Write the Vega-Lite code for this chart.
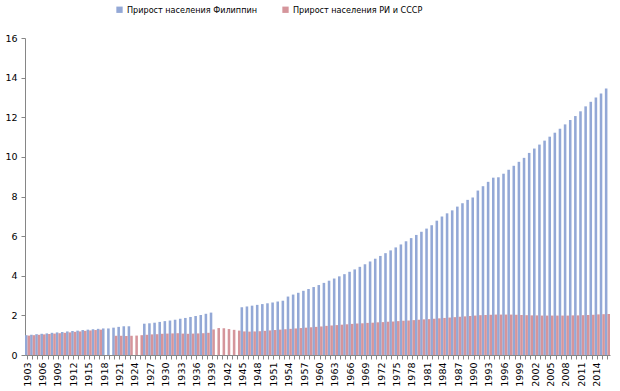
{
  "$schema": "https://vega.github.io/schema/vega-lite/v6.json",
  "width": 585,
  "height": 317,
  "autosize": "none",
  "padding": {"left": 25, "top": 38, "right": 10, "bottom": 36},
  "background": "white",
  "config": {
    "view": {"stroke": null},
    "font": "DejaVu Sans",
    "axis": {"labelFont": "DejaVu Sans", "labelFontSize": 9.5, "labelColor": "#000000", "domainColor": "#868686", "tickColor": "#868686", "grid": false}
  },
  "data": {
    "values": [
      {"year":1903,"s":"PH","v":1.00},{"year":1904,"s":"PH","v":1.02},{"year":1905,"s":"PH","v":1.05},{"year":1906,"s":"PH","v":1.07},{"year":1907,"s":"PH","v":1.09},{"year":1908,"s":"PH","v":1.12},{"year":1909,"s":"PH","v":1.14},{"year":1910,"s":"PH","v":1.16},{"year":1911,"s":"PH","v":1.19},{"year":1912,"s":"PH","v":1.21},{"year":1913,"s":"PH","v":1.23},{"year":1914,"s":"PH","v":1.26},{"year":1915,"s":"PH","v":1.28},{"year":1916,"s":"PH","v":1.30},{"year":1917,"s":"PH","v":1.32},{"year":1918,"s":"PH","v":1.34},{"year":1919,"s":"PH","v":1.34},{"year":1920,"s":"PH","v":1.38},{"year":1921,"s":"PH","v":1.42},{"year":1922,"s":"PH","v":1.45},{"year":1923,"s":"PH","v":1.45},
      {"year":1926,"s":"PH","v":1.58},{"year":1927,"s":"PH","v":1.60},{"year":1928,"s":"PH","v":1.63},{"year":1929,"s":"PH","v":1.67},{"year":1930,"s":"PH","v":1.71},{"year":1931,"s":"PH","v":1.74},{"year":1932,"s":"PH","v":1.78},{"year":1933,"s":"PH","v":1.83},{"year":1934,"s":"PH","v":1.87},{"year":1935,"s":"PH","v":1.92},{"year":1936,"s":"PH","v":1.97},{"year":1937,"s":"PH","v":2.02},{"year":1938,"s":"PH","v":2.08},{"year":1939,"s":"PH","v":2.14},
      {"year":1945,"s":"PH","v":2.41},{"year":1946,"s":"PH","v":2.45},{"year":1947,"s":"PH","v":2.49},{"year":1948,"s":"PH","v":2.53},{"year":1949,"s":"PH","v":2.57},{"year":1950,"s":"PH","v":2.61},{"year":1951,"s":"PH","v":2.65},{"year":1952,"s":"PH","v":2.70},{"year":1953,"s":"PH","v":2.74},{"year":1954,"s":"PH","v":2.95},{"year":1955,"s":"PH","v":3.05},{"year":1956,"s":"PH","v":3.14},{"year":1957,"s":"PH","v":3.24},{"year":1958,"s":"PH","v":3.33},{"year":1959,"s":"PH","v":3.43},{"year":1960,"s":"PH","v":3.53},{"year":1961,"s":"PH","v":3.64},{"year":1962,"s":"PH","v":3.75},{"year":1963,"s":"PH","v":3.86},{"year":1964,"s":"PH","v":3.97},{"year":1965,"s":"PH","v":4.08},{"year":1966,"s":"PH","v":4.20},{"year":1967,"s":"PH","v":4.32},{"year":1968,"s":"PH","v":4.45},{"year":1969,"s":"PH","v":4.58},{"year":1970,"s":"PH","v":4.72},{"year":1971,"s":"PH","v":4.86},{"year":1972,"s":"PH","v":5.00},{"year":1973,"s":"PH","v":5.14},{"year":1974,"s":"PH","v":5.28},{"year":1975,"s":"PH","v":5.43},{"year":1976,"s":"PH","v":5.58},{"year":1977,"s":"PH","v":5.74},{"year":1978,"s":"PH","v":5.90},{"year":1979,"s":"PH","v":6.06},{"year":1980,"s":"PH","v":6.22},{"year":1981,"s":"PH","v":6.38},{"year":1982,"s":"PH","v":6.55},{"year":1983,"s":"PH","v":6.78},{"year":1984,"s":"PH","v":6.99},{"year":1985,"s":"PH","v":7.15},{"year":1986,"s":"PH","v":7.30},{"year":1987,"s":"PH","v":7.49},{"year":1988,"s":"PH","v":7.66},{"year":1989,"s":"PH","v":7.83},{"year":1990,"s":"PH","v":7.95},{"year":1991,"s":"PH","v":8.30},{"year":1992,"s":"PH","v":8.52},{"year":1993,"s":"PH","v":8.74},{"year":1994,"s":"PH","v":8.95},{"year":1995,"s":"PH","v":8.97},{"year":1996,"s":"PH","v":9.15},{"year":1997,"s":"PH","v":9.35},{"year":1998,"s":"PH","v":9.55},{"year":1999,"s":"PH","v":9.75},{"year":2000,"s":"PH","v":9.95},{"year":2001,"s":"PH","v":10.20},{"year":2002,"s":"PH","v":10.42},{"year":2003,"s":"PH","v":10.62},{"year":2004,"s":"PH","v":10.82},{"year":2005,"s":"PH","v":11.02},{"year":2006,"s":"PH","v":11.22},{"year":2007,"s":"PH","v":11.42},{"year":2008,"s":"PH","v":11.64},{"year":2009,"s":"PH","v":11.86},{"year":2010,"s":"PH","v":12.06},{"year":2011,"s":"PH","v":12.30},{"year":2012,"s":"PH","v":12.55},{"year":2013,"s":"PH","v":12.78},{"year":2014,"s":"PH","v":13.00},{"year":2015,"s":"PH","v":13.20},{"year":2016,"s":"PH","v":13.45},
      {"year":1903,"s":"RU","v":0.98},{"year":1904,"s":"RU","v":1.00},{"year":1905,"s":"RU","v":1.02},{"year":1906,"s":"RU","v":1.04},{"year":1907,"s":"RU","v":1.06},{"year":1908,"s":"RU","v":1.08},{"year":1909,"s":"RU","v":1.10},{"year":1910,"s":"RU","v":1.12},{"year":1911,"s":"RU","v":1.14},{"year":1912,"s":"RU","v":1.17},{"year":1913,"s":"RU","v":1.19},{"year":1914,"s":"RU","v":1.22},{"year":1915,"s":"RU","v":1.24},{"year":1916,"s":"RU","v":1.26},{"year":1917,"s":"RU","v":1.28},
      {"year":1920,"s":"RU","v":0.97},{"year":1921,"s":"RU","v":0.97},{"year":1922,"s":"RU","v":0.96},{"year":1923,"s":"RU","v":0.97},{"year":1924,"s":"RU","v":0.98},{"year":1925,"s":"RU","v":1.00},{"year":1926,"s":"RU","v":1.02},{"year":1927,"s":"RU","v":1.04},{"year":1928,"s":"RU","v":1.05},{"year":1929,"s":"RU","v":1.07},{"year":1930,"s":"RU","v":1.08},{"year":1931,"s":"RU","v":1.09},{"year":1932,"s":"RU","v":1.10},{"year":1933,"s":"RU","v":1.08},{"year":1934,"s":"RU","v":1.07},{"year":1935,"s":"RU","v":1.08},{"year":1936,"s":"RU","v":1.09},{"year":1937,"s":"RU","v":1.10},{"year":1938,"s":"RU","v":1.12},{"year":1939,"s":"RU","v":1.29},{"year":1940,"s":"RU","v":1.36},{"year":1941,"s":"RU","v":1.35},{"year":1942,"s":"RU","v":1.31},{"year":1943,"s":"RU","v":1.27},{"year":1944,"s":"RU","v":1.23},{"year":1945,"s":"RU","v":1.19},{"year":1946,"s":"RU","v":1.18},{"year":1947,"s":"RU","v":1.19},{"year":1948,"s":"RU","v":1.20},{"year":1949,"s":"RU","v":1.22},{"year":1950,"s":"RU","v":1.24},{"year":1951,"s":"RU","v":1.26},{"year":1952,"s":"RU","v":1.28},{"year":1953,"s":"RU","v":1.30},{"year":1954,"s":"RU","v":1.32},{"year":1955,"s":"RU","v":1.34},{"year":1956,"s":"RU","v":1.36},{"year":1957,"s":"RU","v":1.38},{"year":1958,"s":"RU","v":1.40},{"year":1959,"s":"RU","v":1.42},{"year":1960,"s":"RU","v":1.44},{"year":1961,"s":"RU","v":1.47},{"year":1962,"s":"RU","v":1.49},{"year":1963,"s":"RU","v":1.51},{"year":1964,"s":"RU","v":1.53},{"year":1965,"s":"RU","v":1.55},{"year":1966,"s":"RU","v":1.57},{"year":1967,"s":"RU","v":1.59},{"year":1968,"s":"RU","v":1.60},{"year":1969,"s":"RU","v":1.62},{"year":1970,"s":"RU","v":1.63},{"year":1971,"s":"RU","v":1.65},{"year":1972,"s":"RU","v":1.66},{"year":1973,"s":"RU","v":1.68},{"year":1974,"s":"RU","v":1.69},{"year":1975,"s":"RU","v":1.71},{"year":1976,"s":"RU","v":1.73},{"year":1977,"s":"RU","v":1.74},{"year":1978,"s":"RU","v":1.76},{"year":1979,"s":"RU","v":1.78},{"year":1980,"s":"RU","v":1.80},{"year":1981,"s":"RU","v":1.81},{"year":1982,"s":"RU","v":1.83},{"year":1983,"s":"RU","v":1.85},{"year":1984,"s":"RU","v":1.87},{"year":1985,"s":"RU","v":1.89},{"year":1986,"s":"RU","v":1.91},{"year":1987,"s":"RU","v":1.93},{"year":1988,"s":"RU","v":1.95},{"year":1989,"s":"RU","v":1.97},{"year":1990,"s":"RU","v":1.99},{"year":1991,"s":"RU","v":2.01},{"year":1992,"s":"RU","v":2.02},{"year":1993,"s":"RU","v":2.03},{"year":1994,"s":"RU","v":2.04},{"year":1995,"s":"RU","v":2.04},{"year":1996,"s":"RU","v":2.04},{"year":1997,"s":"RU","v":2.04},{"year":1998,"s":"RU","v":2.03},{"year":1999,"s":"RU","v":2.02},{"year":2000,"s":"RU","v":2.01},{"year":2001,"s":"RU","v":2.00},{"year":2002,"s":"RU","v":2.00},{"year":2003,"s":"RU","v":1.99},{"year":2004,"s":"RU","v":1.99},{"year":2005,"s":"RU","v":1.99},{"year":2006,"s":"RU","v":1.99},{"year":2007,"s":"RU","v":1.99},{"year":2008,"s":"RU","v":1.99},{"year":2009,"s":"RU","v":2.00},{"year":2010,"s":"RU","v":2.00},{"year":2011,"s":"RU","v":2.01},{"year":2012,"s":"RU","v":2.02},{"year":2013,"s":"RU","v":2.03},{"year":2014,"s":"RU","v":2.05},{"year":2015,"s":"RU","v":2.06},{"year":2016,"s":"RU","v":2.07}
    ]
  },
  "mark": {"type": "bar"},
  "encoding": {
    "x": {
      "field": "year", "type": "ordinal",
      "scale": {"paddingInner": 0, "paddingOuter": 0},
      "axis": {"title": null, "labelAngle": -90, "labelAlign": "right", "labelBaseline": "middle", "tickSize": 4, "labelPadding": 3,
               "labelExpr": "(toNumber(datum.value) - 1903) % 3 === 0 ? datum.value : ''"}
    },
    "xOffset": {"field": "s", "type": "nominal", "sort": ["PH", "RU"], "scale": {"paddingInner": 0, "paddingOuter": 0}},
    "y": {
      "field": "v", "type": "quantitative",
      "scale": {"domain": [0, 16]},
      "axis": {"title": null, "values": [0, 2, 4, 6, 8, 10, 12, 14, 16], "tickSize": 4, "labelPadding": 4}
    },
    "color": {
      "field": "s", "type": "nominal",
      "scale": {"domain": ["PH", "RU"], "range": ["#93a8d6", "#d5959b"]},
      "legend": {
        "title": null, "orient": "none", "direction": "horizontal", "legendX": 90, "legendY": -33,
        "symbolType": "square", "symbolSize": 40, "symbolStrokeWidth": 0, "columnPadding": 24,
        "labelFont": "DejaVu Sans Condensed", "labelFontSize": 9, "labelColor": "#000000", "labelOffset": 3,
        "labelExpr": "datum.label === 'PH' ? 'Прирост населения Филиппин' : 'Прирост населения РИ и СССР'"
      }
    }
  }
}
